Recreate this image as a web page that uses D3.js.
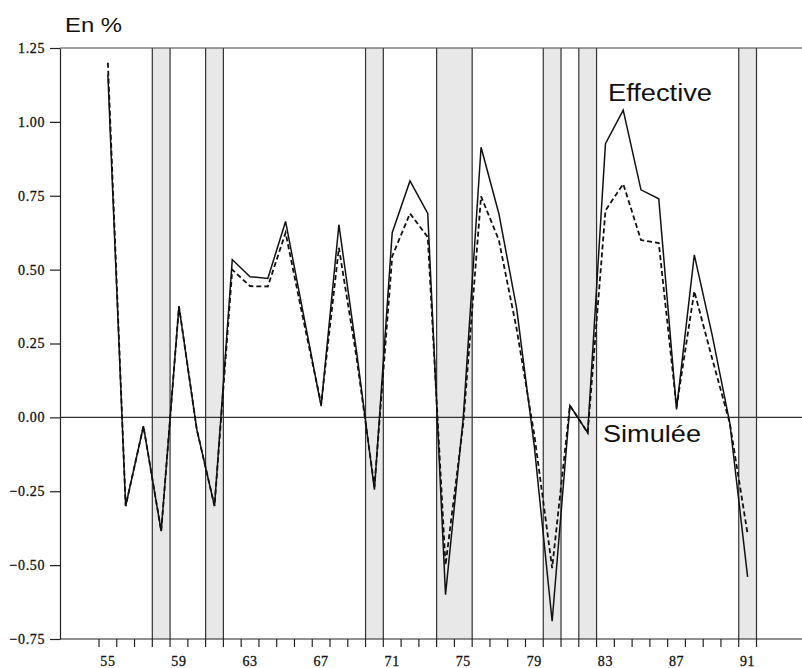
<!DOCTYPE html>
<html>
<head>
<meta charset="utf-8">
<script src="https://cdn.jsdelivr.net/npm/d3@7"></script>
<style>
  body { margin: 0; background: #fff; }
  svg { display: block; }
</style>
</head>
<body>
<div id="chart"></div>
<script>
// Data (years 1955-1991)
const years = [1955, 1956, 1957, 1958, 1959, 1960, 1961, 1962, 1963, 1964,
  1965, 1966, 1967, 1968, 1969, 1970, 1971, 1972, 1973, 1974, 1975, 1976,
  1977, 1978, 1979, 1980, 1981, 1982, 1983, 1984, 1985, 1986, 1987, 1988,
  1989, 1990, 1991];
const effective = [1.16, -0.30, -0.03, -0.385, 0.376, -0.04, -0.30, 0.534,
  0.476, 0.47, 0.663, 0.35, 0.038, 0.652, 0.22, -0.245, 0.625, 0.80, 0.69,
  -0.60, 0.0, 0.914, 0.69, 0.37, -0.10, -0.69, 0.04, -0.052, 0.926, 1.04,
  0.77, 0.74, 0.027, 0.55, 0.28, -0.02, -0.54];
const simulated = [1.20, -0.30, -0.03, -0.385, 0.376, -0.04, -0.30, 0.50,
  0.444, 0.443, 0.625, 0.33, 0.045, 0.574, 0.20, -0.235, 0.545, 0.69, 0.61,
  -0.50, -0.02, 0.748, 0.60, 0.30, -0.06, -0.51, 0.04, -0.052, 0.70, 0.79,
  0.60, 0.59, 0.035, 0.427, 0.20, -0.02, -0.395];
// Shaded years (recessions)
const recessions = [1958, 1961, 1970, 1974, 1975, 1980, 1982, 1991];
const yTicks = [1.25, 1.00, 0.75, 0.50, 0.25, 0.00, -0.25, -0.50, -0.75];
const xLabelYears = [1955, 1959, 1963, 1967, 1971, 1975, 1979, 1983, 1987, 1991];

const width = 802, height = 668;
const margin = { left: 60, right: 802, top: 48, bottom: 639 };

const svg = d3.select("#chart").append("svg")
  .attr("width", width)
  .attr("height", height);

// year boundaries: start of 1955 -> start of 1992
const x = d3.scaleLinear().domain([1955, 1992]).range([99, 756.5]);
const y = d3.scaleLinear().domain([-0.75, 1.25]).range([margin.bottom, margin.top]);

// Group consecutive shaded years into single bands
const runs = [];
recessions.forEach(yr => {
  const last = runs[runs.length - 1];
  if (last && last.end === yr) last.end = yr + 1;
  else runs.push({ start: yr, end: yr + 1 });
});

const bands = svg.append("g");
bands.selectAll("rect")
  .data(runs)
  .join("rect")
  .attr("x", d => x(d.start))
  .attr("width", d => x(d.end) - x(d.start))
  .attr("y", margin.top)
  .attr("height", margin.bottom - margin.top)
  .attr("fill", "#e8e8e8");

// Band edges (dark vertical lines)
const edges = runs.flatMap(d => [d.start, d.end]);
bands.selectAll("line")
  .data(edges)
  .join("line")
  .attr("x1", d => x(d))
  .attr("x2", d => x(d))
  .attr("y1", margin.top)
  .attr("y2", margin.bottom)
  .attr("stroke", "#333")
  .attr("stroke-width", 1.2);

// Top frame and zero line
svg.append("line")
  .attr("x1", margin.left).attr("x2", margin.right)
  .attr("y1", y(1.25)).attr("y2", y(1.25))
  .attr("stroke", "#444").attr("stroke-width", 1.2);
svg.append("line")
  .attr("x1", margin.left).attr("x2", margin.right)
  .attr("y1", y(0)).attr("y2", y(0))
  .attr("stroke", "#333").attr("stroke-width", 1.2);

const serif = "'Liberation Serif', 'Times New Roman', serif";

// Y axis
const yAxis = svg.append("g")
  .attr("transform", `translate(${margin.left},0)`)
  .call(d3.axisLeft(y).tickValues(yTicks).tickFormat(d3.format(".2f"))
    .tickSize(10).tickPadding(5).tickSizeOuter(0));
yAxis.select(".domain").attr("stroke", "#222").attr("stroke-width", 1.2);
yAxis.selectAll(".tick line").attr("stroke", "#222").attr("stroke-width", 1.2);
yAxis.selectAll("text")
  .attr("font-family", serif)
  .attr("font-size", 14)
  .attr("letter-spacing", "0.6px")
  .attr("stroke", "#111").attr("stroke-width", 0.3)
  .attr("fill", "#111");

// X axis: baseline across whole width, ticks at year boundaries
svg.append("line")
  .attr("x1", margin.left).attr("x2", margin.right)
  .attr("y1", margin.bottom).attr("y2", margin.bottom)
  .attr("stroke", "#222").attr("stroke-width", 1.2);
const xTickYears = years.concat([1992]);
svg.append("g").selectAll("line")
  .data(xTickYears)
  .join("line")
  .attr("x1", d => x(d)).attr("x2", d => x(d))
  .attr("y1", margin.bottom).attr("y2", margin.bottom + 8)
  .attr("stroke", "#222").attr("stroke-width", 1.2);
svg.append("g").selectAll("text")
  .data(xLabelYears)
  .join("text")
  .attr("x", d => x(d + 0.5))
  .attr("y", 666)
  .attr("text-anchor", "middle")
  .attr("font-family", serif)
  .attr("font-size", 14)
  .attr("letter-spacing", "0.6px")
  .attr("stroke", "#111").attr("stroke-width", 0.3)
  .attr("fill", "#111")
  .text(d => String(d).slice(2));

// Lines
const line = d3.line()
  .x((d, i) => x(years[i] + 0.5))
  .y(d => y(d));

svg.append("path")
  .datum(simulated)
  .attr("d", line)
  .attr("fill", "none")
  .attr("stroke", "#111")
  .attr("stroke-width", 1.8)
  .attr("stroke-dasharray", "5,3");

svg.append("path")
  .datum(effective)
  .attr("d", line)
  .attr("fill", "none")
  .attr("stroke", "#111")
  .attr("stroke-width", 1.5);

// Labels
const sans = "'Liberation Sans', Arial, Helvetica, sans-serif";
svg.append("text")
  .attr("x", 65).attr("y", 32)
  .attr("font-family", sans).attr("font-size", 21)
  .attr("textLength", 57).attr("lengthAdjust", "spacingAndGlyphs")
  .attr("fill", "#111")
  .text("En %");
svg.append("text")
  .attr("x", 608).attr("y", 101)
  .attr("font-family", sans).attr("font-size", 23)
  .attr("textLength", 104).attr("lengthAdjust", "spacingAndGlyphs")
  .attr("fill", "#111")
  .text("Effective");
svg.append("text")
  .attr("x", 603).attr("y", 442)
  .attr("font-family", sans).attr("font-size", 24)
  .attr("textLength", 98).attr("lengthAdjust", "spacingAndGlyphs")
  .attr("fill", "#111")
  .text("Simulée");
</script>
</body>
</html>
